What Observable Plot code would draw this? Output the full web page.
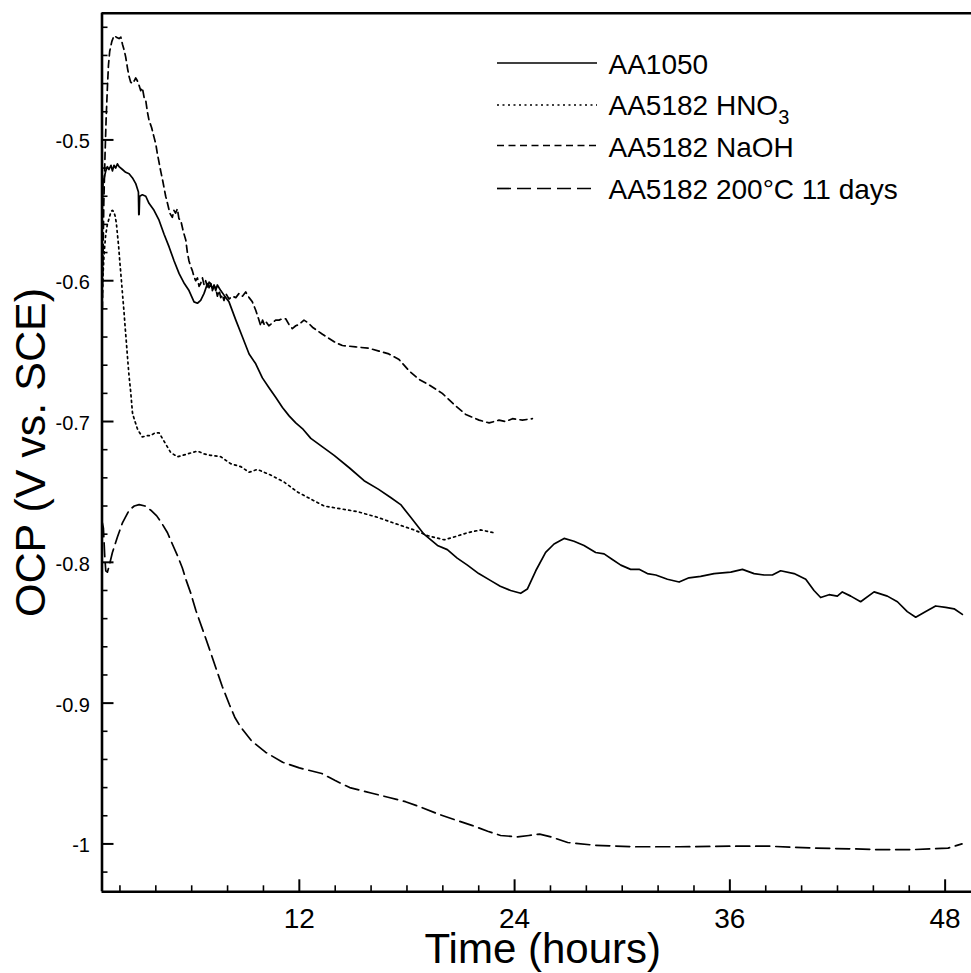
<!DOCTYPE html>
<html><head><meta charset="utf-8">
<script src="https://cdn.jsdelivr.net/npm/d3@7"></script>
<script src="https://cdn.jsdelivr.net/npm/@observablehq/plot@0.6"></script>
<style>html,body{margin:0;padding:0;background:#fff;}#chart svg{display:block;}</style>
</head><body><div id="chart"></div>
<script>
// ---- data: [time (hours), OCP (V vs. SCE)] ----
const aa1050 = [[1.00,-0.553],[1.02,-0.548],[1.06,-0.530],[1.12,-0.527],[1.21,-0.522],[1.30,-0.519],[1.39,-0.521],[1.50,-0.518],[1.58,-0.522],[1.67,-0.518],[1.76,-0.520],[1.86,-0.517],[1.95,-0.519],[2.14,-0.521],[2.32,-0.523],[2.51,-0.524],[2.70,-0.527],[2.88,-0.531],[3.03,-0.537],[3.05,-0.553],[3.07,-0.553],[3.10,-0.540],[3.25,-0.539],[3.44,-0.540],[3.62,-0.545],[3.90,-0.550],[4.18,-0.557],[4.46,-0.567],[4.74,-0.576],[5.02,-0.586],[5.30,-0.595],[5.59,-0.602],[5.85,-0.607],[6.13,-0.615],[6.32,-0.616],[6.50,-0.614],[6.69,-0.609],[6.88,-0.602],[6.97,-0.605],[7.06,-0.602],[7.15,-0.606],[7.25,-0.603],[7.34,-0.607],[7.43,-0.603],[7.62,-0.607],[7.90,-0.612],[8.08,-0.615],[8.46,-0.628],[8.83,-0.640],[9.20,-0.652],[9.57,-0.659],[9.94,-0.669],[10.31,-0.676],[10.69,-0.683],[11.06,-0.690],[11.43,-0.696],[11.80,-0.701],[12.17,-0.705],[12.64,-0.712],[13.29,-0.718],[13.94,-0.724],[14.80,-0.733],[15.61,-0.742],[16.40,-0.748],[17.09,-0.754],[17.65,-0.759],[18.21,-0.768],[18.95,-0.780],[19.70,-0.788],[20.25,-0.791],[20.80,-0.797],[21.37,-0.802],[22.00,-0.808],[22.67,-0.813],[23.20,-0.817],[23.78,-0.820],[24.34,-0.822],[24.71,-0.819],[25.18,-0.806],[25.73,-0.793],[26.20,-0.787],[26.76,-0.783],[27.31,-0.785],[27.87,-0.788],[28.52,-0.793],[28.99,-0.794],[29.45,-0.798],[29.92,-0.802],[30.47,-0.805],[30.94,-0.805],[31.40,-0.808],[31.87,-0.809],[32.52,-0.812],[33.17,-0.814],[33.72,-0.811],[34.37,-0.810],[35.12,-0.808],[36.05,-0.807],[36.70,-0.805],[37.35,-0.808],[37.90,-0.809],[38.37,-0.809],[38.83,-0.806],[39.58,-0.808],[40.23,-0.812],[40.69,-0.820],[41.06,-0.825],[41.53,-0.823],[41.99,-0.824],[42.27,-0.821],[42.74,-0.824],[43.29,-0.828],[44.04,-0.821],[44.78,-0.824],[45.34,-0.828],[45.89,-0.835],[46.36,-0.839],[46.92,-0.835],[47.47,-0.831],[48.03,-0.832],[48.50,-0.833],[48.96,-0.837]];

const aa5182HNO3 = [[1.00,-0.620],[1.03,-0.605],[1.06,-0.595],[1.12,-0.580],[1.21,-0.567],[1.30,-0.560],[1.39,-0.556],[1.50,-0.551],[1.58,-0.550],[1.66,-0.551],[1.73,-0.554],[1.80,-0.559],[1.86,-0.567],[1.93,-0.576],[1.99,-0.586],[2.07,-0.598],[2.14,-0.609],[2.22,-0.621],[2.29,-0.633],[2.36,-0.644],[2.42,-0.654],[2.51,-0.668],[2.60,-0.679],[2.70,-0.694],[2.79,-0.698],[2.97,-0.705],[3.10,-0.708],[3.25,-0.711],[3.50,-0.710],[3.72,-0.710],[3.95,-0.708],[4.18,-0.708],[4.46,-0.714],[4.83,-0.722],[5.20,-0.725],[5.50,-0.724],[5.76,-0.723],[6.32,-0.721],[6.70,-0.723],[7.06,-0.724],[7.62,-0.725],[8.18,-0.730],[8.73,-0.732],[9.20,-0.736],[9.66,-0.734],[10.40,-0.738],[11.15,-0.743],[11.89,-0.750],[12.63,-0.755],[13.38,-0.760],[14.31,-0.762],[15.24,-0.764],[16.35,-0.768],[17.47,-0.773],[18.40,-0.777],[19.14,-0.781],[20.07,-0.784],[20.63,-0.782],[21.37,-0.779],[22.11,-0.777],[22.85,-0.779]];

const aa5182NaOH = [[1.02,-0.620],[1.06,-0.581],[1.10,-0.545],[1.17,-0.510],[1.23,-0.485],[1.30,-0.463],[1.36,-0.447],[1.43,-0.437],[1.55,-0.430],[1.67,-0.426],[1.80,-0.427],[1.95,-0.428],[2.05,-0.427],[2.14,-0.432],[2.23,-0.436],[2.32,-0.441],[2.42,-0.449],[2.51,-0.455],[2.60,-0.459],[2.70,-0.460],[2.80,-0.458],[2.88,-0.456],[2.97,-0.458],[3.06,-0.461],[3.16,-0.465],[3.25,-0.463],[3.35,-0.470],[3.44,-0.472],[3.53,-0.480],[3.62,-0.486],[3.76,-0.491],[3.90,-0.498],[4.00,-0.503],[4.09,-0.510],[4.18,-0.516],[4.27,-0.522],[4.37,-0.528],[4.46,-0.534],[4.55,-0.540],[4.65,-0.545],[4.78,-0.552],[4.92,-0.555],[5.01,-0.550],[5.10,-0.552],[5.20,-0.549],[5.29,-0.556],[5.39,-0.557],[5.53,-0.565],[5.67,-0.571],[5.76,-0.580],[5.85,-0.586],[5.95,-0.590],[6.04,-0.593],[6.13,-0.597],[6.22,-0.600],[6.32,-0.598],[6.41,-0.604],[6.50,-0.602],[6.60,-0.598],[6.69,-0.603],[6.78,-0.600],[6.88,-0.605],[6.97,-0.601],[7.06,-0.602],[7.15,-0.607],[7.25,-0.604],[7.34,-0.605],[7.43,-0.611],[7.53,-0.607],[7.62,-0.612],[7.71,-0.610],[7.80,-0.614],[7.90,-0.609],[8.08,-0.613],[8.27,-0.611],[8.46,-0.612],[8.64,-0.609],[8.83,-0.611],[9.01,-0.608],[9.20,-0.612],[9.38,-0.615],[9.57,-0.621],[9.70,-0.626],[9.85,-0.632],[9.95,-0.628],[10.04,-0.631],[10.13,-0.629],[10.30,-0.632],[10.50,-0.630],[10.68,-0.628],[10.87,-0.628],[11.05,-0.627],[11.24,-0.627],[11.42,-0.631],[11.61,-0.634],[11.80,-0.632],[11.99,-0.631],[12.26,-0.628],[12.50,-0.630],[12.73,-0.633],[13.29,-0.638],[13.66,-0.641],[14.03,-0.644],[14.40,-0.646],[15.14,-0.647],[15.89,-0.648],[16.44,-0.650],[16.99,-0.652],[17.56,-0.656],[18.12,-0.664],[18.67,-0.670],[19.23,-0.674],[19.97,-0.680],[20.72,-0.689],[21.28,-0.695],[22.02,-0.699],[22.58,-0.701],[23.13,-0.699],[23.50,-0.700],[23.88,-0.698],[24.43,-0.699],[24.99,-0.698]];

const aa5182Heat = [[1.02,-0.772],[1.08,-0.776],[1.15,-0.795],[1.21,-0.806],[1.30,-0.807],[1.39,-0.803],[1.58,-0.793],[1.86,-0.782],[2.14,-0.772],[2.51,-0.763],[2.80,-0.760],[3.07,-0.759],[3.40,-0.760],[3.72,-0.763],[4.05,-0.767],[4.37,-0.773],[4.65,-0.779],[4.92,-0.787],[5.20,-0.795],[5.48,-0.804],[5.70,-0.813],[5.95,-0.822],[6.23,-0.834],[6.45,-0.842],[6.70,-0.851],[7.00,-0.862],[7.32,-0.874],[7.70,-0.888],[8.10,-0.901],[8.40,-0.910],[8.73,-0.917],[9.35,-0.927],[10.13,-0.935],[11.07,-0.942],[12.00,-0.946],[13.25,-0.950],[14.00,-0.955],[14.81,-0.960],[16.05,-0.964],[17.00,-0.967],[17.92,-0.970],[18.80,-0.974],[19.79,-0.979],[20.70,-0.983],[21.66,-0.987],[22.50,-0.991],[23.22,-0.994],[24.16,-0.995],[24.80,-0.994],[25.40,-0.993],[26.03,-0.995],[26.96,-0.999],[28.52,-1.001],[30.70,-1.002],[33.20,-1.002],[36.00,-1.0016],[38.18,-1.0016],[40.68,-1.003],[42.86,-1.0035],[44.11,-1.004],[46.29,-1.004],[48.16,-1.003],[48.94,-1.000]];

const seriesNames = ["AA1050", "AA5182 HNO3", "AA5182 NaOH", "AA5182 200°C 11 days"];
const xTicks = [12, 24, 36, 48];
const xMinorTicks = [2,4,6,8,10,14,16,18,20,22,26,28,30,32,34,38,40,42,44,46];
const yTicks = [-1, -0.9, -0.8, -0.7, -0.6, -0.5];
const yMinorTicks = [-1.02,-0.98,-0.96,-0.94,-0.92,-0.88,-0.86,-0.84,-0.82,-0.78,-0.76,-0.74,-0.72,-0.68,-0.66,-0.64,-0.62,-0.58,-0.56,-0.54,-0.52,-0.48,-0.46,-0.44,-0.42];
const xDomain = [1, 49.47];
const yDomain = [-1.034, -0.41];
const xLabel = "Time (hours)";
const yLabel = "OCP (V vs. SCE)";

// ---- styles / layout ----
const seriesData = [aa1050, aa5182HNO3, aa5182NaOH, aa5182Heat];
const seriesDash = [null, "2,3.5", "7,4.5", "14,6"];
const W = 971, H = 973;
const mL = 101.5, mR = 0, mT = 12.7, mB = 81.7;
const plotW = W - mL - mR, plotH = H - mT - mB;
const centerY = (mT + H - mB) / 2;
const FONT = "'Liberation Sans', Arial, Helvetica, sans-serif";

const marks = [];
seriesData.forEach((data, i) => {
  marks.push(Plot.line(data, {x: d => d[0], y: d => d[1], stroke: "#000", strokeWidth: 1.7,
    strokeDasharray: seriesDash[i] || undefined, strokeLinejoin: "round"}));
});
// ticks (inward)
marks.push(Plot.tickX(xTicks, {x: d => d, insetTop: plotH - 12, strokeWidth: 2}));
marks.push(Plot.tickX(xMinorTicks, {x: d => d, insetTop: plotH - 6, strokeWidth: 1.6}));
marks.push(Plot.tickY(yTicks, {y: d => d, insetRight: plotW - 12, strokeWidth: 2}));
marks.push(Plot.tickY(yMinorTicks, {y: d => d, insetRight: plotW - 6, strokeWidth: 1.6}));
// frame lines (left, bottom, top)
marks.push(Plot.ruleX([xDomain[0]], {strokeWidth: 2.6}));
marks.push(Plot.ruleY([yDomain[0]], {strokeWidth: 2.6}));
marks.push(Plot.ruleY([yDomain[1]], {strokeWidth: 2.6}));
// axes labels
marks.push(Plot.axisX(xTicks, {tickSize: 0, tickPadding: 16, fontSize: 28, label: null, tickFormat: d => String(d)}));
marks.push(Plot.axisY(yTicks, {tickSize: 0, tickPadding: 12, fontSize: 20, label: null, tickFormat: d => String(+d.toFixed(1)), dy: 2}));
marks.push(Plot.text([xLabel], {text: d => d, frameAnchor: "bottom", textAnchor: "middle", dy: 58, dx: 6, fontSize: 42, lineAnchor: "middle"}));
marks.push(Plot.text([yLabel], {text: d => d, frameAnchor: "left", textAnchor: "middle", rotate: -90, dx: -70.5, fontSize: 43, lineAnchor: "middle"}));
// legend
const legBase = [60.5, 102.2, 143.9, 185.6];
const legLine = [49.8, 91.8, 132.3, 175.3];
seriesNames.forEach((name, i) => {
  marks.push(Plot.ruleY([0], {y: null, dy: mT + legLine[i] - centerY, insetLeft: 497 - mL, insetRight: W - 597,
    strokeWidth: 1.7, strokeDasharray: seriesDash[i] || undefined}));
  marks.push(Plot.text([name], {text: d => d, frameAnchor: "top-left", dx: 608 - mL, dy: legBase[i] - 8.96,
    textAnchor: "start", lineAnchor: "middle", fontSize: 28}));
});

const chart = Plot.plot({
  width: W, height: H,
  marginLeft: mL, marginRight: mR, marginTop: mT, marginBottom: mB,
  x: {domain: xDomain},
  y: {domain: yDomain},
  style: {background: "#fff", color: "#000", fontFamily: FONT},
  marks
});
document.getElementById("chart").appendChild(chart);

// subscript for HNO3
d3.select(chart).selectAll("text").filter(function() { return this.textContent === "AA5182 HNO3"; })
  .each(function() {
    const t = d3.select(this);
    t.text("AA5182 HNO");
    t.append("tspan").attr("dy", 9).attr("font-size", 20).text("3");
  });
</script>
</body></html>
